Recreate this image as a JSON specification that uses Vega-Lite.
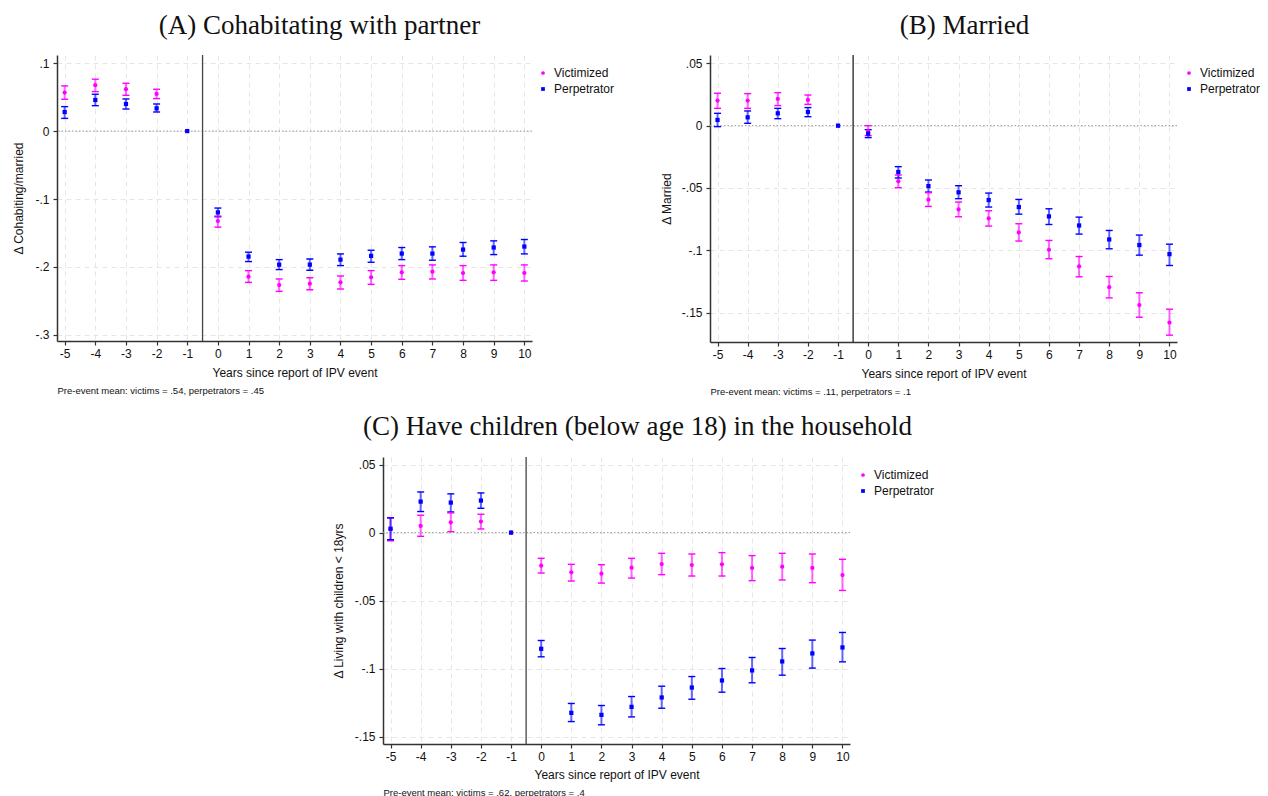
{
  "$schema": "https://vega.github.io/schema/vega-lite/v6.json",
  "background": "white",
  "padding": {"left": 12, "top": 12, "right": 5, "bottom": 0},
  "datasets": {
    "A": [
      {"g":"Victimized","t":-5,"b":0.0567,"lo":0.0468,"hi":0.0665},
      {"g":"Victimized","t":-4,"b":0.0675,"lo":0.0581,"hi":0.0764},
      {"g":"Victimized","t":-3,"b":0.0616,"lo":0.0527,"hi":0.0704},
      {"g":"Victimized","t":-2,"b":0.0547,"lo":0.0478,"hi":0.0616},
      {"g":"Victimized","t":-1,"b":0,"lo":null,"hi":null},
      {"g":"Victimized","t":0,"b":-0.1325,"lo":-0.1414,"hi":-0.1251},
      {"g":"Victimized","t":1,"b":-0.2143,"lo":-0.2227,"hi":-0.2054},
      {"g":"Victimized","t":2,"b":-0.2266,"lo":-0.2360,"hi":-0.2177},
      {"g":"Victimized","t":3,"b":-0.2246,"lo":-0.2335,"hi":-0.2158},
      {"g":"Victimized","t":4,"b":-0.2227,"lo":-0.2325,"hi":-0.2133},
      {"g":"Victimized","t":5,"b":-0.2153,"lo":-0.2256,"hi":-0.2054},
      {"g":"Victimized","t":6,"b":-0.2079,"lo":-0.2182,"hi":-0.1980},
      {"g":"Victimized","t":7,"b":-0.2069,"lo":-0.2177,"hi":-0.1970},
      {"g":"Victimized","t":8,"b":-0.2089,"lo":-0.2197,"hi":-0.1980},
      {"g":"Victimized","t":9,"b":-0.2079,"lo":-0.2197,"hi":-0.1970},
      {"g":"Victimized","t":10,"b":-0.2089,"lo":-0.2207,"hi":-0.1970},
      {"g":"Perpetrator","t":-5,"b":0.0281,"lo":0.0187,"hi":0.0360},
      {"g":"Perpetrator","t":-4,"b":0.0458,"lo":0.0374,"hi":0.0542},
      {"g":"Perpetrator","t":-3,"b":0.0399,"lo":0.0325,"hi":0.0473},
      {"g":"Perpetrator","t":-2,"b":0.0335,"lo":0.0281,"hi":0.0399},
      {"g":"Perpetrator","t":-1,"b":0,"lo":null,"hi":null},
      {"g":"Perpetrator","t":0,"b":-0.1197,"lo":-0.1261,"hi":-0.1133},
      {"g":"Perpetrator","t":1,"b":-0.1847,"lo":-0.1921,"hi":-0.1783},
      {"g":"Perpetrator","t":2,"b":-0.1966,"lo":-0.2039,"hi":-0.1892},
      {"g":"Perpetrator","t":3,"b":-0.1966,"lo":-0.2049,"hi":-0.1882},
      {"g":"Perpetrator","t":4,"b":-0.1892,"lo":-0.1980,"hi":-0.1808},
      {"g":"Perpetrator","t":5,"b":-0.1837,"lo":-0.1931,"hi":-0.1754},
      {"g":"Perpetrator","t":6,"b":-0.1803,"lo":-0.1892,"hi":-0.1714},
      {"g":"Perpetrator","t":7,"b":-0.1803,"lo":-0.1901,"hi":-0.1704},
      {"g":"Perpetrator","t":8,"b":-0.1744,"lo":-0.1842,"hi":-0.1640},
      {"g":"Perpetrator","t":9,"b":-0.1714,"lo":-0.1818,"hi":-0.1616},
      {"g":"Perpetrator","t":10,"b":-0.1700,"lo":-0.1808,"hi":-0.1596}
    ],
    "B": [
      {"g":"Victimized","t":-5,"b":0.0201,"lo":0.0139,"hi":0.0260},
      {"g":"Victimized","t":-4,"b":0.0201,"lo":0.0139,"hi":0.0257},
      {"g":"Victimized","t":-3,"b":0.0214,"lo":0.0161,"hi":0.0265},
      {"g":"Victimized","t":-2,"b":0.0206,"lo":0.0171,"hi":0.0246},
      {"g":"Victimized","t":-1,"b":0,"lo":null,"hi":null},
      {"g":"Victimized","t":0,"b":-0.0043,"lo":-0.0080,"hi":0.0000},
      {"g":"Victimized","t":1,"b":-0.0447,"lo":-0.0498,"hi":-0.0396},
      {"g":"Victimized","t":2,"b":-0.0594,"lo":-0.0648,"hi":-0.0538},
      {"g":"Victimized","t":3,"b":-0.0672,"lo":-0.0731,"hi":-0.0613},
      {"g":"Victimized","t":4,"b":-0.0744,"lo":-0.0806,"hi":-0.0683},
      {"g":"Victimized","t":5,"b":-0.0857,"lo":-0.0926,"hi":-0.0787},
      {"g":"Victimized","t":6,"b":-0.0996,"lo":-0.1068,"hi":-0.0921},
      {"g":"Victimized","t":7,"b":-0.1130,"lo":-0.1213,"hi":-0.1050},
      {"g":"Victimized","t":8,"b":-0.1296,"lo":-0.1382,"hi":-0.1210},
      {"g":"Victimized","t":9,"b":-0.1440,"lo":-0.1537,"hi":-0.1341},
      {"g":"Victimized","t":10,"b":-0.1580,"lo":-0.1681,"hi":-0.1473},
      {"g":"Perpetrator","t":-5,"b":0.0046,"lo":-0.0008,"hi":0.0099},
      {"g":"Perpetrator","t":-4,"b":0.0067,"lo":0.0019,"hi":0.0118},
      {"g":"Perpetrator","t":-3,"b":0.0099,"lo":0.0056,"hi":0.0139},
      {"g":"Perpetrator","t":-2,"b":0.0110,"lo":0.0072,"hi":0.0145},
      {"g":"Perpetrator","t":-1,"b":0,"lo":null,"hi":null},
      {"g":"Perpetrator","t":0,"b":-0.0064,"lo":-0.0096,"hi":-0.0032},
      {"g":"Perpetrator","t":1,"b":-0.0372,"lo":-0.0420,"hi":-0.0329},
      {"g":"Perpetrator","t":2,"b":-0.0485,"lo":-0.0533,"hi":-0.0436},
      {"g":"Perpetrator","t":3,"b":-0.0535,"lo":-0.0586,"hi":-0.0482},
      {"g":"Perpetrator","t":4,"b":-0.0597,"lo":-0.0653,"hi":-0.0541},
      {"g":"Perpetrator","t":5,"b":-0.0653,"lo":-0.0710,"hi":-0.0592},
      {"g":"Perpetrator","t":6,"b":-0.0728,"lo":-0.0793,"hi":-0.0667},
      {"g":"Perpetrator","t":7,"b":-0.0801,"lo":-0.0870,"hi":-0.0734},
      {"g":"Perpetrator","t":8,"b":-0.0913,"lo":-0.0988,"hi":-0.0841},
      {"g":"Perpetrator","t":9,"b":-0.0958,"lo":-0.1039,"hi":-0.0878},
      {"g":"Perpetrator","t":10,"b":-0.1031,"lo":-0.1122,"hi":-0.0951}
    ],
    "C": [
      {"g":"Victimized","t":-5,"b":0.0025,"lo":-0.0060,"hi":0.0110},
      {"g":"Victimized","t":-4,"b":0.0049,"lo":-0.0027,"hi":0.0128},
      {"g":"Victimized","t":-3,"b":0.0076,"lo":0.0007,"hi":0.0145},
      {"g":"Victimized","t":-2,"b":0.0081,"lo":0.0027,"hi":0.0135},
      {"g":"Victimized","t":-1,"b":0,"lo":null,"hi":null},
      {"g":"Victimized","t":0,"b":-0.0243,"lo":-0.0297,"hi":-0.0189},
      {"g":"Victimized","t":1,"b":-0.0292,"lo":-0.0356,"hi":-0.0233},
      {"g":"Victimized","t":2,"b":-0.0302,"lo":-0.0371,"hi":-0.0236},
      {"g":"Victimized","t":3,"b":-0.0258,"lo":-0.0334,"hi":-0.0189},
      {"g":"Victimized","t":4,"b":-0.0231,"lo":-0.0309,"hi":-0.0152},
      {"g":"Victimized","t":5,"b":-0.0238,"lo":-0.0319,"hi":-0.0157},
      {"g":"Victimized","t":6,"b":-0.0233,"lo":-0.0319,"hi":-0.0147},
      {"g":"Victimized","t":7,"b":-0.0260,"lo":-0.0353,"hi":-0.0169},
      {"g":"Victimized","t":8,"b":-0.0250,"lo":-0.0348,"hi":-0.0152},
      {"g":"Victimized","t":9,"b":-0.0260,"lo":-0.0368,"hi":-0.0157},
      {"g":"Victimized","t":10,"b":-0.0312,"lo":-0.0425,"hi":-0.0196},
      {"g":"Perpetrator","t":-5,"b":0.0029,"lo":-0.0052,"hi":0.0108},
      {"g":"Perpetrator","t":-4,"b":0.0228,"lo":0.0155,"hi":0.0299},
      {"g":"Perpetrator","t":-3,"b":0.0221,"lo":0.0152,"hi":0.0285},
      {"g":"Perpetrator","t":-2,"b":0.0236,"lo":0.0179,"hi":0.0292},
      {"g":"Perpetrator","t":-1,"b":0,"lo":null,"hi":null},
      {"g":"Perpetrator","t":0,"b":-0.0854,"lo":-0.0913,"hi":-0.0793},
      {"g":"Perpetrator","t":1,"b":-0.1325,"lo":-0.1389,"hi":-0.1256},
      {"g":"Perpetrator","t":2,"b":-0.1340,"lo":-0.1413,"hi":-0.1271},
      {"g":"Perpetrator","t":3,"b":-0.1281,"lo":-0.1355,"hi":-0.1205},
      {"g":"Perpetrator","t":4,"b":-0.1212,"lo":-0.1291,"hi":-0.1129},
      {"g":"Perpetrator","t":5,"b":-0.1139,"lo":-0.1225,"hi":-0.1058},
      {"g":"Perpetrator","t":6,"b":-0.1087,"lo":-0.1173,"hi":-0.0999},
      {"g":"Perpetrator","t":7,"b":-0.1013,"lo":-0.1104,"hi":-0.0918},
      {"g":"Perpetrator","t":8,"b":-0.0947,"lo":-0.1048,"hi":-0.0852},
      {"g":"Perpetrator","t":9,"b":-0.0888,"lo":-0.0996,"hi":-0.0790},
      {"g":"Perpetrator","t":10,"b":-0.0844,"lo":-0.0950,"hi":-0.0734}
    ]
  },
  "vconcat": [
    {
      "hconcat": [
        {
          "width": 475, "height": 286,
          "title": {"text": "(A) Cohabitating with partner", "frame": "group", "dx": 25, "offset": -7, "baseline": "alphabetic"},
          "data": {"name": "A"},
          "resolve": {"axis": {"x": "independent"}},
          "layer": [
            {"data": {"values": [{"v": 0}]}, "mark": {"type": "rule", "color": "#9a9a9a", "strokeDash": [1.5, 2], "strokeWidth": 1},
             "encoding": {"y": {"field": "v", "type": "quantitative", "title": "Δ Cohabiting/married", "scale": {"domain": [-0.309, 0.112], "nice": false, "zero": false}}}},
            {"data": {"values": [{"v": -0.5}]}, "mark": {"type": "rule", "color": "#444", "strokeWidth": 1.3},
             "encoding": {"x": {"field": "v", "type": "quantitative", "axis": null, "scale": {"domain": [-5.25, 10.25], "nice": false, "zero": false}}}},
            {"mark": {"type": "rule", "strokeWidth": 2, "strokeOpacity": 0.6},
             "encoding": {"x": {"field": "t", "type": "quantitative", "axis": null, "scale": {"domain": [-5.25, 10.25], "nice": false, "zero": false}},
               "y": {"field": "lo", "type": "quantitative", "title": "Δ Cohabiting/married"}, "y2": {"field": "hi"},
               "stroke": {"field": "g", "type": "nominal", "scale": {"domain": ["Perpetrator", "Victimized"], "range": ["#0000ff", "#ff00ff"]}, "legend": null}}},
            {"mark": {"type": "tick", "orient": "horizontal", "size": 7, "thickness": 1.4, "opacity": 1},
             "encoding": {"x": {"field": "t", "type": "quantitative", "axis": null, "scale": {"domain": [-5.25, 10.25], "nice": false, "zero": false}},
               "y": {"field": "lo", "type": "quantitative", "title": "Δ Cohabiting/married"},
               "fill": {"field": "g", "type": "nominal", "scale": {"domain": ["Perpetrator", "Victimized"], "range": ["#0000ff", "#ff00ff"]}, "legend": null}}},
            {"mark": {"type": "tick", "orient": "horizontal", "size": 7, "thickness": 1.4, "opacity": 1},
             "encoding": {"x": {"field": "t", "type": "quantitative", "axis": null, "scale": {"domain": [-5.25, 10.25], "nice": false, "zero": false}},
               "y": {"field": "hi", "type": "quantitative", "title": "Δ Cohabiting/married"},
               "fill": {"field": "g", "type": "nominal", "scale": {"domain": ["Perpetrator", "Victimized"], "range": ["#0000ff", "#ff00ff"]}, "legend": null}}},
            {"mark": {"type": "point", "filled": true, "opacity": 1, "size": 18},
             "encoding": {
               "x": {"field": "t", "type": "quantitative", "scale": {"domain": [-5.25, 10.25], "nice": false, "zero": false},
                 "axis": {"title": "Years since report of IPV event", "values": [-5,-4,-3,-2,-1,0,1,2,3,4,5,6,7,8,9,10], "labelExpr": "'' + datum.value", "grid": true, "titlePadding": 8}},
               "y": {"field": "b", "type": "quantitative", "title": "Δ Cohabiting/married", "scale": {"domain": [-0.309, 0.112], "nice": false, "zero": false},
                 "axis": {"values": [0.1, 0, -0.1, -0.2, -0.3], "labelExpr": "datum.value == 0 ? '0' : (datum.value < 0 ? '-' : '') + replace(format(abs(datum.value), '.2~f'), '0.', '.')", "grid": true, "titlePadding": 9, "labelPadding": 4}},
               "color": {"field": "g", "type": "nominal", "scale": {"domain": ["Victimized", "Perpetrator"], "range": ["#ff00ff", "#0000ff"]},
                 "legend": {"title": null, "orient": "none", "legendX": 480, "legendY": 12}},
               "shape": {"field": "g", "type": "nominal", "scale": {"domain": ["Victimized", "Perpetrator"], "range": ["circle", "square"]},
                 "legend": {"title": null, "orient": "none", "legendX": 480, "legendY": 12}}}},
            {"mark": {"type": "point", "opacity": 0},
             "encoding": {
               "x": {"field": "t", "type": "quantitative", "scale": {"domain": [-5.25, 10.25], "nice": false, "zero": false},
                 "axis": {"orient": "bottom", "title": "Pre-event mean: victims = .54, perpetrators = .45", "titleAnchor": "start", "titleFontSize": 9.5, "titlePadding": 44, "domain": false, "ticks": false, "labels": false, "grid": false}},
               "y": {"field": "b", "type": "quantitative", "title": "Δ Cohabiting/married"}}}
          ]
        },
        {
          "width": 467, "height": 287,
          "title": {"text": "(B) Married", "frame": "group", "dx": 21, "offset": -7, "baseline": "alphabetic"},
          "data": {"name": "B"},
          "resolve": {"axis": {"x": "independent"}},
          "layer": [
            {"data": {"values": [{"v": 0}]}, "mark": {"type": "rule", "color": "#9a9a9a", "strokeDash": [1.5, 2], "strokeWidth": 1},
             "encoding": {"y": {"field": "v", "type": "quantitative", "title": "Δ Married", "scale": {"domain": [-0.1736, 0.0567], "nice": false, "zero": false}}}},
            {"data": {"values": [{"v": -0.5}]}, "mark": {"type": "rule", "color": "#222", "strokeWidth": 1.3},
             "encoding": {"x": {"field": "v", "type": "quantitative", "axis": null, "scale": {"domain": [-5.25, 10.25], "nice": false, "zero": false}}}},
            {"mark": {"type": "rule", "strokeWidth": 2, "strokeOpacity": 0.6},
             "encoding": {"x": {"field": "t", "type": "quantitative", "axis": null, "scale": {"domain": [-5.25, 10.25], "nice": false, "zero": false}},
               "y": {"field": "lo", "type": "quantitative", "title": "Δ Married"}, "y2": {"field": "hi"},
               "stroke": {"field": "g", "type": "nominal", "scale": {"domain": ["Perpetrator", "Victimized"], "range": ["#0000ff", "#ff00ff"]}, "legend": null}}},
            {"mark": {"type": "tick", "orient": "horizontal", "size": 7, "thickness": 1.4, "opacity": 1},
             "encoding": {"x": {"field": "t", "type": "quantitative", "axis": null, "scale": {"domain": [-5.25, 10.25], "nice": false, "zero": false}},
               "y": {"field": "lo", "type": "quantitative", "title": "Δ Married"},
               "fill": {"field": "g", "type": "nominal", "scale": {"domain": ["Perpetrator", "Victimized"], "range": ["#0000ff", "#ff00ff"]}, "legend": null}}},
            {"mark": {"type": "tick", "orient": "horizontal", "size": 7, "thickness": 1.4, "opacity": 1},
             "encoding": {"x": {"field": "t", "type": "quantitative", "axis": null, "scale": {"domain": [-5.25, 10.25], "nice": false, "zero": false}},
               "y": {"field": "hi", "type": "quantitative", "title": "Δ Married"},
               "fill": {"field": "g", "type": "nominal", "scale": {"domain": ["Perpetrator", "Victimized"], "range": ["#0000ff", "#ff00ff"]}, "legend": null}}},
            {"mark": {"type": "point", "filled": true, "opacity": 1, "size": 18},
             "encoding": {
               "x": {"field": "t", "type": "quantitative", "scale": {"domain": [-5.25, 10.25], "nice": false, "zero": false},
                 "axis": {"title": "Years since report of IPV event", "values": [-5,-4,-3,-2,-1,0,1,2,3,4,5,6,7,8,9,10], "labelExpr": "'' + datum.value", "grid": true, "titlePadding": 8}},
               "y": {"field": "b", "type": "quantitative", "title": "Δ Married", "scale": {"domain": [-0.1736, 0.0567], "nice": false, "zero": false},
                 "axis": {"values": [0.05, 0, -0.05, -0.1, -0.15], "labelExpr": "datum.value == 0 ? '0' : (datum.value < 0 ? '-' : '') + replace(format(abs(datum.value), '.2~f'), '0.', '.')", "grid": true, "titlePadding": 8, "labelPadding": 4}},
               "color": {"field": "g", "type": "nominal", "scale": {"domain": ["Victimized", "Perpetrator"], "range": ["#ff00ff", "#0000ff"]},
                 "legend": {"title": null, "orient": "none", "legendX": 473, "legendY": 12}},
               "shape": {"field": "g", "type": "nominal", "scale": {"domain": ["Victimized", "Perpetrator"], "range": ["circle", "square"]},
                 "legend": {"title": null, "orient": "none", "legendX": 473, "legendY": 12}}}},
            {"mark": {"type": "point", "opacity": 0},
             "encoding": {
               "x": {"field": "t", "type": "quantitative", "scale": {"domain": [-5.25, 10.25], "nice": false, "zero": false},
                 "axis": {"orient": "bottom", "title": "Pre-event mean: victims = .11, perpetrators = .1", "titleAnchor": "start", "titleFontSize": 9.5, "titlePadding": 44, "domain": false, "ticks": false, "labels": false, "grid": false}},
               "y": {"field": "b", "type": "quantitative", "title": "Δ Married"}}}
          ]
        }
      ],
      "spacing": 178,
      "bounds": "flush",
      "resolve": {"scale": {"x": "independent", "y": "independent", "color": "independent", "shape": "independent", "stroke": "independent", "fill": "independent"}, "legend": {"color": "independent", "shape": "independent"}}
    },
    {
      "width": 467, "height": 287,
      "title": {"text": "(C) Have children (below age 18) in the household", "frame": "group", "dx": 21, "offset": -6, "baseline": "alphabetic"},
      "data": {"name": "C"},
      "resolve": {"axis": {"x": "independent"}},
      "layer": [
        {"data": {"values": [{"v": 0}]}, "mark": {"type": "rule", "color": "#9a9a9a", "strokeDash": [1.5, 2], "strokeWidth": 1},
         "encoding": {"y": {"field": "v", "type": "quantitative", "title": "Δ Living with children < 18yrs", "scale": {"domain": [-0.1554, 0.0556], "nice": false, "zero": false}}}},
        {"data": {"values": [{"v": -0.5}]}, "mark": {"type": "rule", "color": "#444", "strokeWidth": 1.3},
         "encoding": {"x": {"field": "v", "type": "quantitative", "axis": null, "scale": {"domain": [-5.25, 10.25], "nice": false, "zero": false}}}},
        {"mark": {"type": "rule", "strokeWidth": 2, "strokeOpacity": 0.6},
         "encoding": {"x": {"field": "t", "type": "quantitative", "axis": null, "scale": {"domain": [-5.25, 10.25], "nice": false, "zero": false}},
           "y": {"field": "lo", "type": "quantitative", "title": "Δ Living with children < 18yrs"}, "y2": {"field": "hi"},
           "stroke": {"field": "g", "type": "nominal", "scale": {"domain": ["Perpetrator", "Victimized"], "range": ["#0000ff", "#ff00ff"]}, "legend": null}}},
        {"mark": {"type": "tick", "orient": "horizontal", "size": 7, "thickness": 1.4, "opacity": 1},
         "encoding": {"x": {"field": "t", "type": "quantitative", "axis": null, "scale": {"domain": [-5.25, 10.25], "nice": false, "zero": false}},
           "y": {"field": "lo", "type": "quantitative", "title": "Δ Living with children < 18yrs"},
           "fill": {"field": "g", "type": "nominal", "scale": {"domain": ["Perpetrator", "Victimized"], "range": ["#0000ff", "#ff00ff"]}, "legend": null}}},
        {"mark": {"type": "tick", "orient": "horizontal", "size": 7, "thickness": 1.4, "opacity": 1},
         "encoding": {"x": {"field": "t", "type": "quantitative", "axis": null, "scale": {"domain": [-5.25, 10.25], "nice": false, "zero": false}},
           "y": {"field": "hi", "type": "quantitative", "title": "Δ Living with children < 18yrs"},
           "fill": {"field": "g", "type": "nominal", "scale": {"domain": ["Perpetrator", "Victimized"], "range": ["#0000ff", "#ff00ff"]}, "legend": null}}},
        {"mark": {"type": "point", "filled": true, "opacity": 1, "size": 18},
         "encoding": {
           "x": {"field": "t", "type": "quantitative", "scale": {"domain": [-5.25, 10.25], "nice": false, "zero": false},
             "axis": {"title": "Years since report of IPV event", "values": [-5,-4,-3,-2,-1,0,1,2,3,4,5,6,7,8,9,10], "labelExpr": "'' + datum.value", "grid": true, "titlePadding": 7}},
           "y": {"field": "b", "type": "quantitative", "title": "Δ Living with children < 18yrs", "scale": {"domain": [-0.1554, 0.0556], "nice": false, "zero": false},
             "axis": {"values": [0.05, 0, -0.05, -0.1, -0.15], "labelExpr": "datum.value == 0 ? '0' : (datum.value < 0 ? '-' : '') + replace(format(abs(datum.value), '.2~f'), '0.', '.')", "grid": true, "titlePadding": 9, "labelPadding": 4}},
           "color": {"field": "g", "type": "nominal", "scale": {"domain": ["Victimized", "Perpetrator"], "range": ["#ff00ff", "#0000ff"]},
             "legend": {"title": null, "orient": "none", "legendX": 474, "legendY": 12}},
           "shape": {"field": "g", "type": "nominal", "scale": {"domain": ["Victimized", "Perpetrator"], "range": ["circle", "square"]},
             "legend": {"title": null, "orient": "none", "legendX": 474, "legendY": 12}}}},
        {"mark": {"type": "point", "opacity": 0},
         "encoding": {
           "x": {"field": "t", "type": "quantitative", "scale": {"domain": [-5.25, 10.25], "nice": false, "zero": false},
             "axis": {"orient": "bottom", "title": "Pre-event mean: victims = .62, perpetrators = .4", "titleAnchor": "start", "titleFontSize": 9.5, "titlePadding": 43, "domain": false, "ticks": false, "labels": false, "grid": false}},
           "y": {"field": "b", "type": "quantitative", "title": "Δ Living with children < 18yrs"}}}
      ]
    }
  ],
  "spacing": 17,
  "center": true,
  "resolve": {"scale": {"x": "independent", "y": "independent", "color": "independent", "shape": "independent", "stroke": "independent", "fill": "independent"}, "legend": {"color": "independent", "shape": "independent"}},
  "config": {
    "view": {"stroke": null},
    "axis": {
      "domainColor": "#333", "domainWidth": 1.5,
      "tickColor": "#333", "tickSize": 4, "tickWidth": 1.2,
      "gridColor": "#e6e6e6", "gridDash": [5, 4], "gridWidth": 1,
      "labelFont": "Liberation Sans", "labelFontSize": 12, "labelColor": "#111", "labelPadding": 3,
      "titleFont": "Liberation Sans", "titleFontSize": 12, "titleFontWeight": "normal", "titleColor": "#111"
    },
    "legend": {
      "labelFont": "Liberation Sans", "labelFontSize": 12, "labelColor": "#111",
      "symbolSize": 14, "labelOffset": 5, "rowPadding": 4, "padding": 0, "symbolStrokeWidth": 0
    },
    "title": {"font": "Liberation Serif", "fontSize": 27, "fontWeight": "normal", "color": "#111"}
  }
}
